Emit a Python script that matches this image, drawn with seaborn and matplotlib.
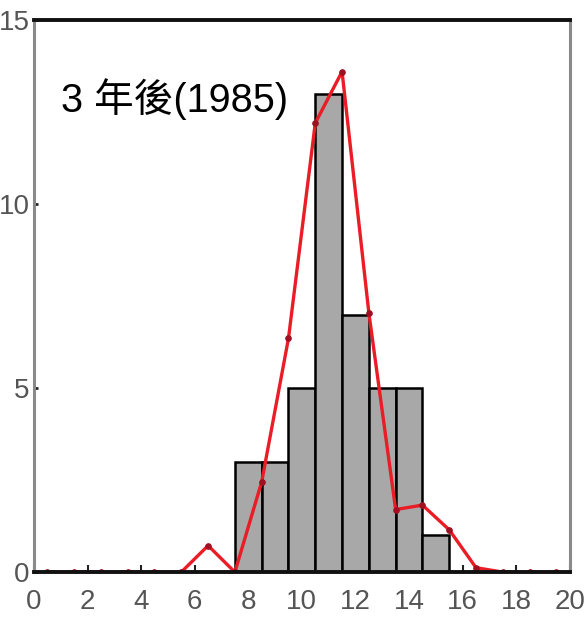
import numpy as np
import pandas as pd
import matplotlib
matplotlib.use("Agg")
import matplotlib.pyplot as plt
import seaborn as sns

# Histogram (bars centred on integers, width 1)
bar_centers = [8, 9, 10, 11, 12, 13, 14, 15]
bar_counts = [3, 3, 5, 13, 7, 5, 5, 1]

# Red fitted curve
curve_x = [0.5, 1.5, 2.5, 3.5, 4.5, 5.5, 6.5, 7.5, 8.5, 9.5,
           10.5, 11.5, 12.5, 13.5, 14.5, 15.5, 16.5, 17.5, 18.5, 19.5]
curve_y = [0, 0, 0, 0, 0, 0, 0.72, 0, 2.45, 6.35,
           12.2, 13.6, 7.05, 1.7, 1.82, 1.15, 0.12, 0, 0, 0]

x_ticks = [0, 2, 4, 6, 8, 10, 12, 14, 16, 18, 20]
y_ticks = [0, 5, 10, 15]
label_text = "3 年後(1985)"

sns.set_style("white")
plt.rcParams["font.family"] = ["Liberation Sans", "Noto Sans CJK TC", "DejaVu Sans"]

fig = plt.figure(figsize=(5.85, 6.28), dpi=100)
ax = fig.add_axes([0.058, 0.089, 0.916, 0.879])

bars = pd.DataFrame({"x": bar_centers, "n": bar_counts})
sns.histplot(data=bars, x="x", weights="n", discrete=True, ax=ax,
             color="#a8a8a8", alpha=1.0, edgecolor="black", linewidth=1.8,
             zorder=2)

curve = pd.DataFrame({"x": curve_x, "y": curve_y})
sns.lineplot(data=curve, x="x", y="y", ax=ax, color="#ea1c26", linewidth=2.4,
             marker="o", markersize=4, markerfacecolor="#a01020",
             markeredgecolor="#a01020", zorder=4)

ax.set_xlim(0, 20)
ax.set_ylim(0, 15)
ax.set_xlabel("")
ax.set_ylabel("")
ax.set_xticks(x_ticks)
ax.set_yticks(y_ticks)
ax.set_xticklabels([str(t) for t in x_ticks])
ax.set_yticklabels([str(t) for t in y_ticks])

for lab in ax.get_xticklabels() + ax.get_yticklabels():
    lab.set_fontfamily(["Liberation Sans Narrow", "Liberation Sans", "DejaVu Sans"])
    lab.set_fontsize(20)
    lab.set_color("#555555")

ax.tick_params(axis="x", direction="in", length=5, width=1.5, color="#222222",
               pad=12, bottom=True)
ax.tick_params(axis="y", direction="in", length=3, width=2, color="#222222",
               pad=3, left=True)

for side in ["top", "bottom"]:
    ax.spines[side].set_color("#111111")
    ax.spines[side].set_linewidth(2.8)
for side in ["left", "right"]:
    ax.spines[side].set_color("#8a8a8a")
    ax.spines[side].set_linewidth(2.2)
for s in ax.spines.values():
    s.set_zorder(5)

ax.text(1.0, 12.85, label_text, fontsize=28.5, color="black", va="center",
        ha="left", zorder=6,
        family=["Liberation Sans", "Noto Sans CJK TC"],
        bbox=dict(facecolor="white", edgecolor="none", boxstyle="square,pad=0.3"))

fig.savefig("out.png", dpi=100)
